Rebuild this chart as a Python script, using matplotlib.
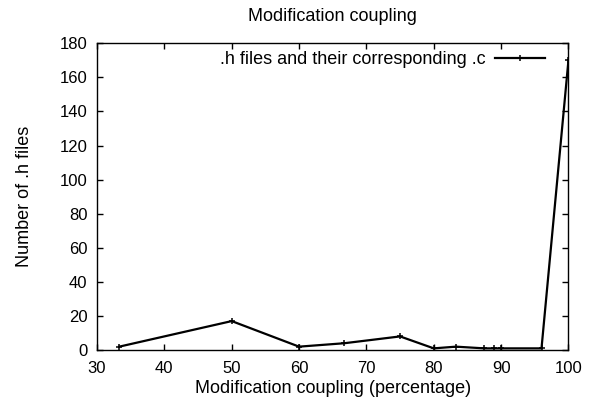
import matplotlib
matplotlib.use("Agg")
import matplotlib.pyplot as plt

plt.rcParams['font.family'] = ['Liberation Sans', 'DejaVu Sans']

# coupling percentage vs number of .h files
coupling = [33.3, 50, 60, 66.7, 75, 80, 83.3, 87.5, 88.9, 90, 96, 100]
n_files = [2, 17, 2, 4, 8, 1, 2, 1, 1, 1, 1, 170]

xticks = [30, 40, 50, 60, 70, 80, 90, 100]
yticks = [0, 20, 40, 60, 80, 100, 120, 140, 160, 180]

fig = plt.figure(figsize=(5.93, 4.08), dpi=100)
ax = fig.add_axes([0.1636, 0.142, 0.795, 0.752])

ax.plot(coupling, n_files, color='black', lw=1.6, marker='+', ms=4.5, mew=1.1,
        label='.h files and their corresponding .c')

ax.set_xlim(30, 100)
ax.set_ylim(0, 180)
ax.set_xticks(xticks)
ax.set_yticks(yticks)
ax.tick_params(direction='in', length=4, width=1, top=True, right=True,
               labelsize=12)
ax.tick_params(axis='x', pad=8)
ax.tick_params(axis='y', pad=7)
for s in ax.spines.values():
    s.set_linewidth(1)

ax.set_title('Modification coupling', fontsize=13, pad=16)
ax.set_xlabel('Modification coupling (percentage)', fontsize=13, labelpad=3)
ax.set_ylabel('Number of .h files', fontsize=13, labelpad=19)

ax.legend(loc='upper right', frameon=False, fontsize=13, markerfirst=False,
          handlelength=2.8, handletextpad=0.5, borderpad=0, borderaxespad=0,
          bbox_to_anchor=(0.951, 0.975))

fig.savefig('out.png', dpi=100)
